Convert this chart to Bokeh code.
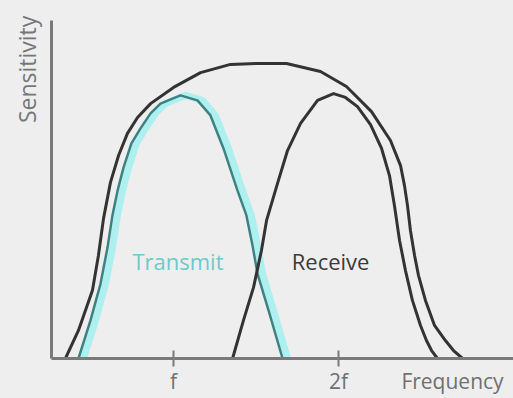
import math
from bokeh.plotting import figure
from bokeh.models import Range1d, FixedTicker, Label
from bokeh.embed import file_html
from bokeh.resources import INLINE

# ---- data (frequency in units of f, sensitivity normalised) ----
envelope_x = [0.345, 0.424, 0.509, 0.545, 0.576, 0.618, 0.667, 0.721, 0.782, 0.861,
              1.000, 1.164, 1.345, 1.509, 1.685, 1.891, 2.048, 2.200, 2.315, 2.376,
              2.400, 2.418, 2.436, 2.461, 2.485, 2.527, 2.582, 2.648, 2.697, 2.752]
envelope_y = [0.000, 0.095, 0.231, 0.349, 0.475, 0.597, 0.688, 0.763, 0.817, 0.864,
              0.919, 0.969, 0.997, 1.000, 1.000, 0.973, 0.922, 0.837, 0.739, 0.654,
              0.586, 0.519, 0.434, 0.349, 0.281, 0.197, 0.112, 0.061, 0.027, 0.000]

transmit_x = [0.424, 0.497, 0.558, 0.600, 0.630, 0.661, 0.697, 0.745, 0.800, 0.861,
              0.921, 1.042, 1.145, 1.224, 1.303, 1.388, 1.442, 1.479, 1.509, 1.576, 1.661]
transmit_y = [0.000, 0.129, 0.254, 0.376, 0.485, 0.569, 0.647, 0.729, 0.780, 0.831,
              0.864, 0.892, 0.875, 0.824, 0.712, 0.569, 0.485, 0.383, 0.288, 0.163, 0.000]

receive_x = [1.358, 1.424, 1.485, 1.533, 1.564, 1.630, 1.691, 1.770, 1.873, 1.970,
             2.042, 2.115, 2.194, 2.261, 2.309, 2.339, 2.370, 2.406, 2.448, 2.497,
             2.533, 2.564, 2.600]
receive_y = [0.000, 0.129, 0.241, 0.366, 0.468, 0.593, 0.705, 0.797, 0.875, 0.898,
             0.885, 0.854, 0.793, 0.712, 0.620, 0.519, 0.400, 0.298, 0.197, 0.112,
             0.061, 0.027, 0.000]

tick_values = [1, 2]
tick_labels = ["f", "2f"]
x_title = "Frequency"
x_title_pos = 2.691
y_title = "Sensitivity"
y_title_pos = 0.980

BG = "#eeeeee"
AXIS = "#7a7a7a"
DARK = "#333333"
TEAL = "#3d8283"
CYAN = "#a6eeee"
TEXT_CYAN = "#72c8c8"
FONT = "Open Sans"

p = figure(width=513, height=398, output_backend="svg", toolbar_location=None,
           x_range=Range1d(0.2606, 3.0606), y_range=Range1d(0, 1.1458),
           min_border_left=51, min_border_right=0, min_border_top=20, min_border_bottom=40)
p.background_fill_color = BG
p.border_fill_color = BG
p.outline_line_color = None
p.grid.visible = False

# x axis: tick marks at f and 2f (drawn as minor ticks), labels f, 2f and the axis title
xa = p.xaxis[0]
xa.ticker = FixedTicker(ticks=tick_values + [x_title_pos], minor_ticks=tick_values)
overrides = {v: l for v, l in zip(tick_values, tick_labels)}
overrides[x_title_pos] = x_title
xa.major_label_overrides = overrides
xa.axis_line_color = AXIS
xa.axis_line_width = 3
xa.major_tick_line_color = None
xa.major_tick_in = 0
xa.major_tick_out = 8
xa.minor_tick_line_color = AXIS
xa.minor_tick_line_width = 2
xa.minor_tick_in = 8
xa.minor_tick_out = 8
xa.major_label_text_font = FONT
xa.major_label_text_font_size = "21px"
xa.major_label_text_color = "#707070"
xa.major_label_standoff = 0

# y axis: no ticks, vertical title near the top
ya = p.yaxis[0]
ya.ticker = FixedTicker(ticks=[y_title_pos], minor_ticks=[])
ya.major_label_overrides = {y_title_pos: y_title}
ya.major_label_orientation = "parallel"
ya.axis_line_color = AXIS
ya.axis_line_width = 3
ya.major_tick_line_color = None
ya.major_tick_out = 0
ya.major_tick_in = 0
ya.minor_tick_line_color = None
ya.major_label_text_font = FONT
ya.major_label_text_font_size = "23px"
ya.major_label_text_color = "#777777"
ya.major_label_standoff = 8

# transmit glow (drawn slightly to the right), then its dark teal line
glow_shift = 0.03
p.line([v + glow_shift for v in transmit_x], transmit_y, line_color=CYAN, line_width=7,
       line_alpha=0.9, line_join="round", line_cap="round")
p.line(transmit_x, transmit_y, line_color=TEAL, line_width=2.5, line_join="round")
p.line(receive_x, receive_y, line_color=DARK, line_width=3, line_join="round")
p.line(envelope_x, envelope_y, line_color=DARK, line_width=3, line_join="round")

p.add_layout(Label(x=1.027, y=0.329, text="Transmit", text_align="center", text_baseline="middle",
                   text_font=FONT, text_font_size="22px", text_color=TEXT_CYAN))
p.add_layout(Label(x=1.952, y=0.329, text="Receive", text_align="center", text_baseline="middle",
                   text_font=FONT, text_font_size="22px", text_color="#3a3a3a"))

html = file_html(p, INLINE)
html = html.replace("<head>", "<head><style>html, body {background:#eeeeee;}</style>", 1)
open("out.html", "w").write(html)
